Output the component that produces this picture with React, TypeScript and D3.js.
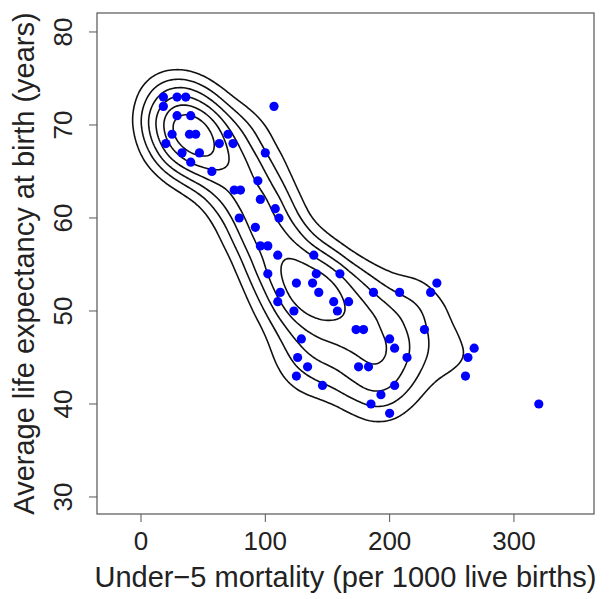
import { useEffect, useRef } from "react";
import * as d3 from "d3";

// under-5 mortality (per 1000) and life expectancy (years)
const mortality = [
  18, 18, 29, 36, 29, 40, 25, 39, 44, 20, 33, 47, 40, 57, 63, 70, 74, 75, 80, 94, 100, 107,
  96, 108, 111, 79, 92, 96, 102, 110, 139, 102, 112, 110, 125, 141, 138, 143, 160, 155, 158,
  167, 187, 208, 123, 173, 179, 129, 200, 126, 204, 214, 134, 175, 183, 125, 146, 204, 193,
  185, 200, 228, 233, 238, 268, 263, 261, 320,
];
const lifeExp = [
  73, 72, 73, 73, 71, 71, 69, 69, 69, 68, 67, 67, 66, 65, 68, 69, 68, 63, 63, 64, 67, 72,
  62, 61, 60, 60, 59, 57, 57, 56, 56, 54, 52, 51, 53, 54, 53, 52, 54, 51, 50,
  51, 52, 52, 50, 48, 48, 47, 47, 45, 46, 45, 44, 44, 44, 43, 42, 42, 41,
  40, 39, 48, 52, 53, 46, 45, 43, 40,
];

const xTicks = [0, 100, 200, 300];
const yTicks = [30, 40, 50, 60, 70, 80];
const xDomain = [-35.4, 364.4];
const yDomain = [28.17, 82.04];
// contour levels as fractions of the peak density
const levels = [0.31, 0.44, 0.56, 0.68, 0.8, 0.91];

const W = 609;
const H = 599;
const M = { left: 97, right: 15, top: 13, bottom: 85 };
const FONT = "'Liberation Sans', Arial, Helvetica, sans-serif";
const BW = 29; // kernel sd in px

export default function App() {
  const ref = useRef<SVGSVGElement | null>(null);

  useEffect(() => {
    const svg = d3.select(ref.current);
    svg.selectAll("*").remove();

    const x = d3.scaleLinear().domain(xDomain).range([M.left, W - M.right]);
    const y = d3.scaleLinear().domain(yDomain).range([H - M.bottom, M.top]);
    const pts: [number, number][] = mortality.map((m, i) => [m, lifeExp[i]]);

    svg.append("rect").attr("width", W).attr("height", H).attr("fill", "#fff");

    svg
      .append("clipPath")
      .attr("id", "plotclip")
      .append("rect")
      .attr("x", M.left)
      .attr("y", M.top)
      .attr("width", W - M.left - M.right)
      .attr("height", H - M.top - M.bottom);

    // density contours
    const dens = d3
      .contourDensity<[number, number]>()
      .x((d) => x(d[0]))
      .y((d) => y(d[1]))
      .size([W, H])
      .cellSize(2)
      .bandwidth(BW)
      .contours(pts);
    const path = d3.geoPath();
    const cg = svg.append("g").attr("clip-path", "url(#plotclip)");
    levels.forEach((f) => {
      cg.append("path")
        .attr("d", path(dens(f * dens.max)))
        .attr("fill", "none")
        .attr("stroke", "#111")
        .attr("stroke-width", 1.6);
    });

    // points
    svg
      .append("g")
      .selectAll("circle")
      .data(pts)
      .join("circle")
      .attr("cx", (d) => x(d[0]))
      .attr("cy", (d) => y(d[1]))
      .attr("r", 4.6)
      .attr("fill", "#0000ff");

    // box
    svg
      .append("rect")
      .attr("x", M.left)
      .attr("y", M.top)
      .attr("width", W - M.left - M.right)
      .attr("height", H - M.top - M.bottom)
      .attr("fill", "none")
      .attr("stroke", "#555")
      .attr("stroke-width", 1.2);

    const bottom = H - M.bottom;
    const xa = svg.append("g");
    xTicks.forEach((t) => {
      xa.append("line")
        .attr("x1", x(t))
        .attr("x2", x(t))
        .attr("y1", bottom)
        .attr("y2", bottom + 8)
        .attr("stroke", "#555");
      xa.append("text")
        .attr("x", x(t))
        .attr("y", 550)
        .attr("text-anchor", "middle")
        .attr("font-family", FONT)
        .attr("font-size", 26)
        .attr("fill", "#222")
        .text(t);
    });

    const ya = svg.append("g");
    yTicks.forEach((t) => {
      ya.append("line")
        .attr("x1", M.left - 8)
        .attr("x2", M.left)
        .attr("y1", y(t))
        .attr("y2", y(t))
        .attr("stroke", "#555");
      ya.append("text")
        .attr("transform", `translate(72,${y(t)}) rotate(-90)`)
        .attr("text-anchor", "middle")
        .attr("font-family", FONT)
        .attr("font-size", 26)
        .attr("fill", "#222")
        .text(t);
    });

    svg
      .append("text")
      .attr("x", (M.left + W - M.right) / 2)
      .attr("y", 587)
      .attr("text-anchor", "middle")
      .attr("font-family", FONT)
      .attr("font-size", 29)
      .attr("fill", "#222")
      .text("Under\u22125 mortality (per 1000 live births)");

    svg
      .append("text")
      .attr("transform", `translate(34,${(M.top + bottom) / 2}) rotate(-90)`)
      .attr("text-anchor", "middle")
      .attr("font-family", FONT)
      .attr("font-size", 29)
      .attr("fill", "#222")
      .text("Average life expectancy at birth (years)");
  }, []);

  return (
    <svg
      ref={ref}
      width={W}
      height={H}
      style={{ position: "absolute", left: 0, top: 0 }}
    />
  );
}
